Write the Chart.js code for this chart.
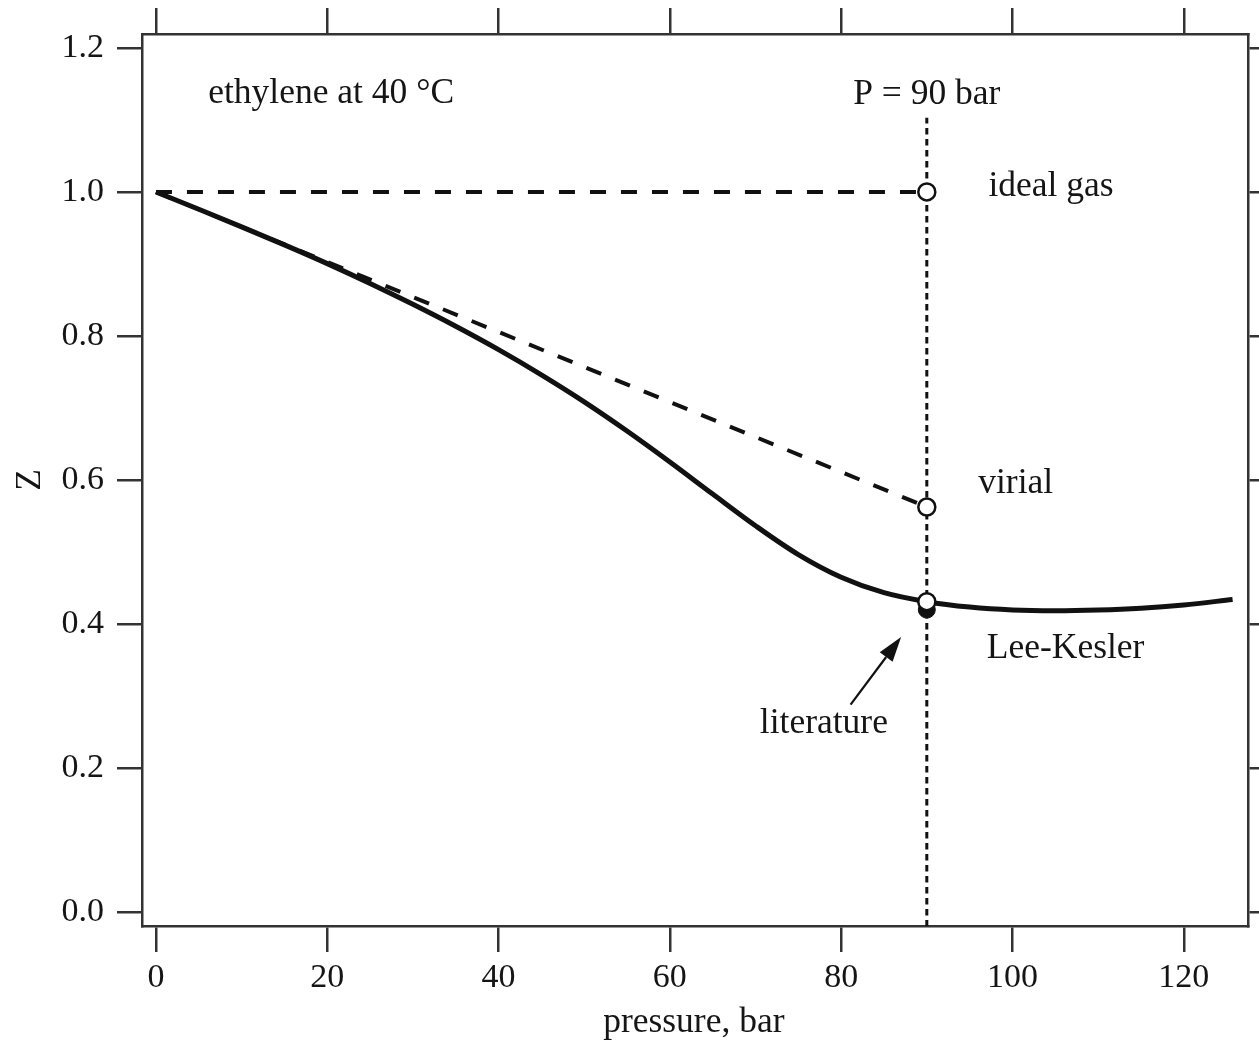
<!DOCTYPE html>
<html>
<head>
<meta charset="utf-8">
<script src="https://cdn.jsdelivr.net/npm/chart.js@4.4.1/dist/chart.umd.min.js"></script>
<style>
  html, body { margin: 0; padding: 0; background: #fff; }
  canvas { display: block; }
</style>
</head>
<body>
<canvas id="zChart" width="1259" height="1045"></canvas>
<script>
// Lee-Kesler compressibility curve, ethylene at 40 C
const leeKeslerP = [0, 5, 10, 15, 20, 25, 30, 35, 40, 45, 50, 55, 60, 65, 70, 75, 80, 85, 90, 95, 100, 105, 110, 115, 120, 125.7];
const leeKeslerZ = [1.0, 0.976, 0.9515, 0.9265, 0.9005, 0.873, 0.844, 0.8135, 0.781, 0.746, 0.7085, 0.668, 0.625, 0.5805, 0.5365, 0.4965, 0.465, 0.4435, 0.431, 0.4235, 0.4195, 0.4185, 0.4195, 0.422, 0.4265, 0.434];

// straight lines: ideal gas and virial
const idealP = [0, 90];
const idealZ = [1.0, 1.0];
const virialP = [0, 90];
const virialZ = [1.0, 0.5625];

// marked state at P = 90 bar
const markP = 90;
const openMarkZ = [1.0, 0.5625, 0.431];  // ideal gas, virial, Lee-Kesler
const literatureZ = [0.42];
const guideZ = [-0.02, 1.103];           // dotted vertical line

const xTicks = [0, 20, 40, 60, 80, 100, 120];
const yTicks = [0.0, 0.2, 0.4, 0.6, 0.8, 1.0, 1.2];

const ink = "#111";
const frame = "#333";
const textInk = "#151515";
const serif = "'Liberation Serif', 'Times New Roman', serif";

const toPts = (xs, ys) => xs.map((x, i) => ({ x: x, y: ys[i] }));

// text labels, anchored in data units
const notes = [
  { text: "ethylene at 40 °C", x: 6.1, y: 1.124, align: "left" },
  { text: "P = 90 bar", x: 90, y: 1.1226, align: "center" },
  { text: "ideal gas", x: 97.2, y: 0.995, align: "left" },
  { text: "virial", x: 96.0, y: 0.582, align: "left" },
  { text: "Lee-Kesler", x: 97.0, y: 0.353, align: "left" },
  { text: "literature", x: 70.5, y: 0.249, align: "left" },
];
const arrowFrom = { x: 81.1, y: 0.288 };
const arrowTo = { x: 87.0, y: 0.382 };

const annotatePlugin = {
  id: "annotate",
  afterDraw(chart) {
    const ctx = chart.ctx;
    const xs = chart.scales.x;
    const ys = chart.scales.y;
    const area = chart.chartArea;
    ctx.save();
    ctx.fillStyle = textInk;
    ctx.font = "35.5px " + serif;
    ctx.textBaseline = "alphabetic";
    notes.forEach(n => {
      ctx.textAlign = n.align;
      ctx.fillText(n.text, xs.getPixelForValue(n.x), ys.getPixelForValue(n.y));
    });

    // arrow pointing at the literature value
    const x0 = xs.getPixelForValue(arrowFrom.x), y0 = ys.getPixelForValue(arrowFrom.y);
    const x1 = xs.getPixelForValue(arrowTo.x), y1 = ys.getPixelForValue(arrowTo.y);
    const ang = Math.atan2(y1 - y0, x1 - x0);
    const headLen = 25, headW = 8;
    const bx = x1 - headLen * Math.cos(ang), by = y1 - headLen * Math.sin(ang);
    ctx.strokeStyle = ink;
    ctx.lineWidth = 2.2;
    ctx.beginPath();
    ctx.moveTo(x0, y0);
    ctx.lineTo(bx, by);
    ctx.stroke();
    ctx.fillStyle = ink;
    ctx.beginPath();
    ctx.moveTo(x1, y1);
    ctx.lineTo(bx + headW * Math.sin(ang), by - headW * Math.cos(ang));
    ctx.lineTo(bx - headW * Math.sin(ang), by + headW * Math.cos(ang));
    ctx.closePath();
    ctx.fill();

    // axis titles
    ctx.fillStyle = textInk;
    ctx.font = "35.5px " + serif;
    ctx.textAlign = "center";
    ctx.fillText("pressure, bar", xs.getPixelForValue(62.8), area.bottom + 106);
    ctx.save();
    ctx.translate(area.left - 111, ys.getPixelForValue(0.6));
    ctx.rotate(-Math.PI / 2);
    ctx.textBaseline = "middle";
    ctx.fillText("Z", 0, 0);
    ctx.restore();
    ctx.restore();
  },
};

const tickGrid = (len) => ({
  drawOnChartArea: false,
  drawTicks: true,
  tickLength: len,
  color: frame,
  lineWidth: 2.5,
});
const edge = { display: true, color: frame, width: 2.5 };

new Chart(document.getElementById("zChart").getContext("2d"), {
  type: "scatter",
  data: {
    datasets: [
      {
        label: "ideal gas / virial / Lee-Kesler at 90 bar",
        data: openMarkZ.map(z => ({ x: markP, y: z })),
        showLine: false,
        pointRadius: 8.5,
        pointBackgroundColor: "#fff",
        pointBorderColor: ink,
        pointBorderWidth: 2.5,
        order: 0,
      },
      {
        label: "literature",
        data: literatureZ.map(z => ({ x: markP, y: z })),
        showLine: false,
        pointRadius: 8.5,
        pointBackgroundColor: ink,
        pointBorderColor: ink,
        pointBorderWidth: 1,
        order: 1,
      },
      {
        label: "Lee-Kesler",
        data: toPts(leeKeslerP, leeKeslerZ),
        showLine: true,
        borderColor: ink,
        borderWidth: 5,
        pointRadius: 0,
        cubicInterpolationMode: "monotone",
        order: 2,
      },
      {
        label: "virial",
        data: toPts(virialP, virialZ),
        showLine: true,
        borderColor: ink,
        borderWidth: 4,
        borderDash: [16, 15],
        pointRadius: 0,
        order: 3,
      },
      {
        label: "ideal gas",
        data: toPts(idealP, idealZ),
        showLine: true,
        borderColor: ink,
        borderWidth: 4,
        borderDash: [16, 15],
        pointRadius: 0,
        order: 4,
      },
      {
        label: "P = 90 bar",
        data: guideZ.map(z => ({ x: markP, y: z })),
        showLine: true,
        borderColor: ink,
        borderWidth: 3,
        borderDash: [6.5, 4.5],
        pointRadius: 0,
        order: 5,
      },
    ],
  },
  options: {
    responsive: false,
    animation: false,
    devicePixelRatio: 1,
    layout: { padding: 0 },
    plugins: {
      legend: { display: false },
      tooltip: { enabled: false },
    },
    scales: {
      x: {
        type: "linear",
        position: "bottom",
        min: -1.63,
        max: 127.5,
        afterBuildTicks: (s) => { s.ticks = xTicks.map(v => ({ value: v })); },
        afterFit: (s) => { s.height = 119; },
        grid: tickGrid(26),
        border: edge,
        ticks: {
          color: textInk,
          padding: 6,
          maxRotation: 0,
          font: { family: serif, size: 34 },
          callback: (v) => String(v),
        },
      },
      x2: {
        type: "linear",
        position: "top",
        min: -1.63,
        max: 127.5,
        afterBuildTicks: (s) => { s.ticks = xTicks.map(v => ({ value: v })); },
        afterFit: (s) => { s.height = 34; },
        grid: tickGrid(26),
        border: edge,
        ticks: { display: false },
      },
      y: {
        type: "linear",
        position: "left",
        min: -0.0194,
        max: 1.2194,
        afterBuildTicks: (s) => { s.ticks = yTicks.map(v => ({ value: v })); },
        afterFit: (s) => { s.width = 142; },
        grid: tickGrid(25),
        border: edge,
        ticks: {
          color: textInk,
          padding: 13,
          font: { family: serif, size: 34 },
          callback: (v) => v.toFixed(1),
        },
      },
      y2: {
        type: "linear",
        position: "right",
        min: -0.0194,
        max: 1.2194,
        afterBuildTicks: (s) => { s.ticks = yTicks.map(v => ({ value: v })); },
        afterFit: (s) => { s.width = 9; },
        grid: tickGrid(25),
        border: edge,
        ticks: { display: false },
      },
    },
  },
  plugins: [annotatePlugin],
});
</script>
</body>
</html>
